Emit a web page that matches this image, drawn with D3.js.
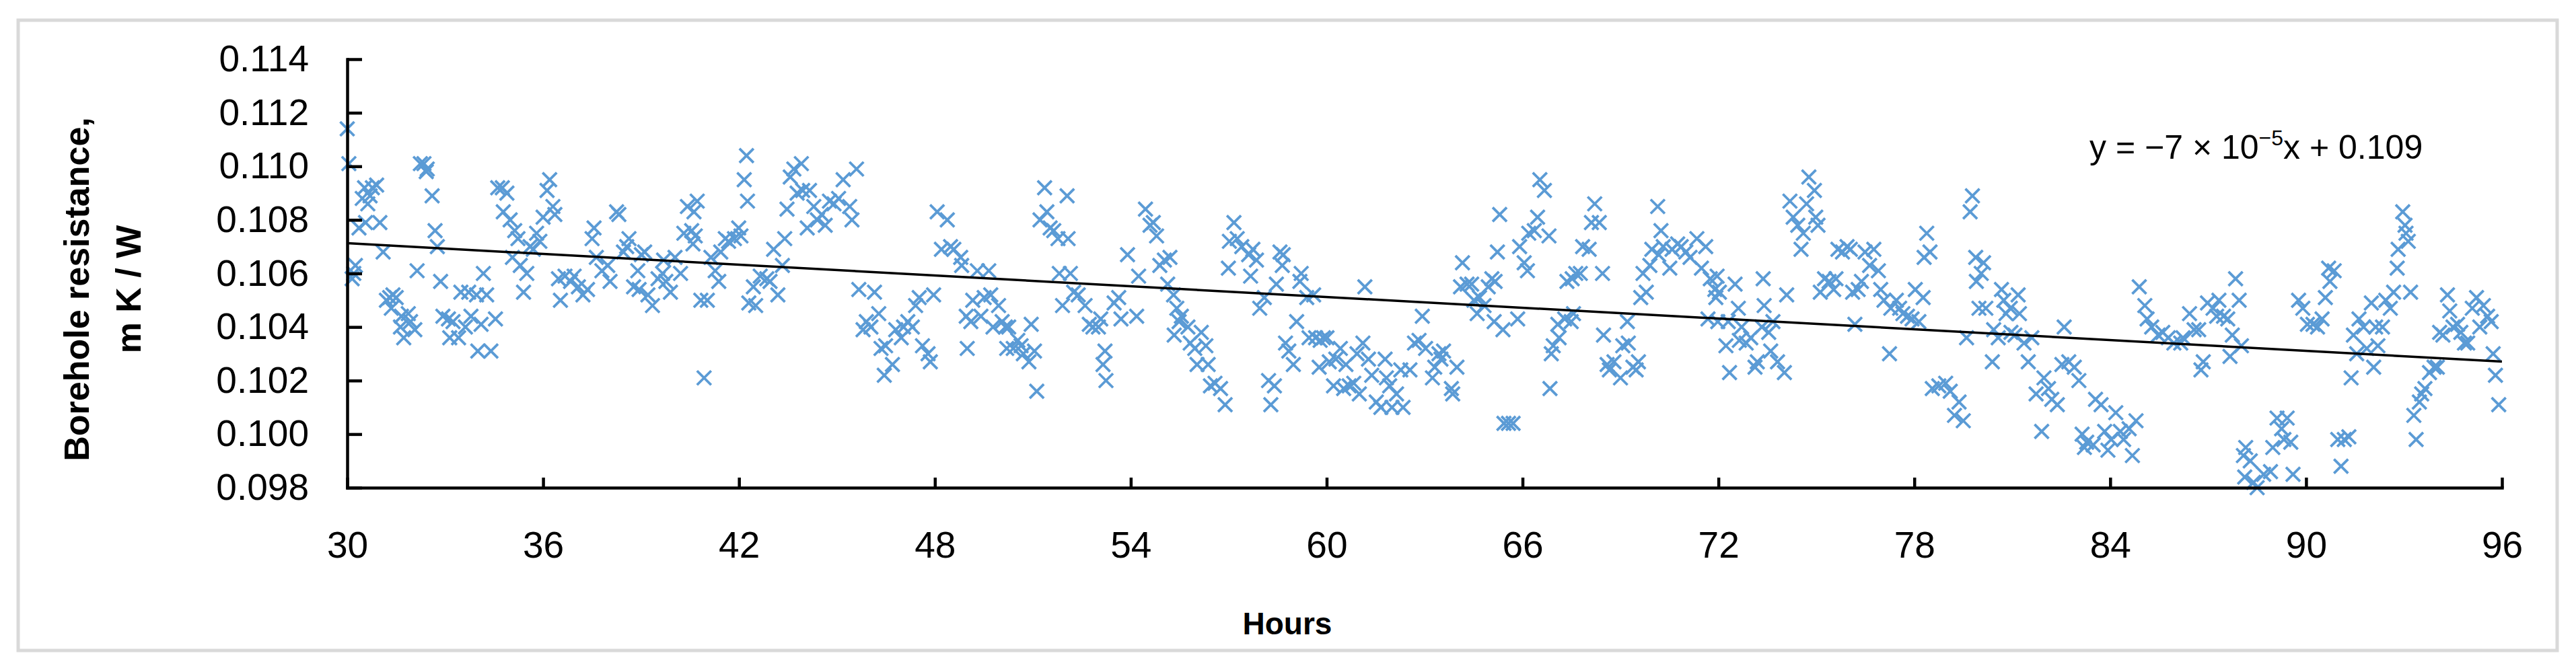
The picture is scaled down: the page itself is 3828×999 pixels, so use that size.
<!DOCTYPE html>
<html>
<head>
<meta charset="utf-8">
<script src="https://cdn.jsdelivr.net/npm/d3@7"></script>
<style>
html,body{margin:0;padding:0;background:#fff;}
svg{display:block;}
</style>
</head>
<body>
<script>
// ---------------- DATA ----------------
// [hour, borehole resistance (m K / W)]
const readings = [
[30.00,.1114],[30.05,.1101],[30.15,.1058],[30.20,.1060],[30.25,.1063],[30.36,.1077],[30.46,.1088],[30.53,.1092],[30.56,.1079],[30.63,.1086],
[30.70,.1089],[30.77,.1092],[30.90,.1093],[31.00,.1079],[31.10,.1068],[31.20,.1050],[31.30,.1051],[31.35,.1047],[31.40,.1052],[31.50,.1051],
[31.63,.1040],[31.66,.1044],[31.73,.1036],[31.87,.1045],[31.94,.1042],[32.07,.1039],[32.14,.1061],[32.24,.1101],[32.35,.1101],[32.42,.1098],
[32.45,.1099],[32.60,.1089],[32.69,.1076],[32.76,.1070],[32.86,.1057],[32.93,.1044],[33.10,.1043],[33.14,.1036],[33.24,.1042],[33.41,.1036],
[33.48,.1053],[33.62,.1040],[33.72,.1053],[33.79,.1044],[33.96,.1052],[34.00,.1031],[34.10,.1041],[34.17,.1060],[34.27,.1052],[34.40,.1031],
[34.54,.1043],[34.61,.1092],[34.75,.1092],[34.78,.1083],[34.89,.1090],[34.99,.1080],[35.06,.1066],[35.13,.1076],[35.23,.1073],[35.30,.1063],
[35.40,.1053],[35.50,.1060],[35.60,.1070],[35.70,.1069],[35.80,.1075],[35.90,.1072],[36.00,.1081],[36.12,.1091],[36.20,.1095],[36.30,.1085],
[36.36,.1082],[36.47,.1058],[36.53,.1050],[36.67,.1059],[36.84,.1057],[36.95,.1059],[37.08,.1055],[37.22,.1052],[37.36,.1054],[37.50,.1073],
[37.56,.1077],[37.63,.1066],[37.80,.1061],
[37.98,.1063],[38.05,.1057],[38.25,.1083],[38.32,.1082],[38.46,.1068],[38.56,.1070],[38.63,.1073],[38.77,.1055],[38.90,.1061],[38.94,.1054],
[39.01,.1067],[39.11,.1068],[39.21,.1052],[39.35,.1048],[39.52,.1058],[39.66,.1060],[39.69,.1065],[39.76,.1057],[39.90,.1053],[40.04,.1066],
[40.21,.1060],[40.31,.1075],[40.42,.1085],[40.55,.1076],[40.59,.1071],[40.62,.1083],[40.66,.1074],[40.72,.1087],[40.83,.1050],[40.93,.1021],
[41.03,.1050],[41.14,.1066],[41.27,.1061],[41.38,.1057],[41.44,.1068],[41.58,.1073],[41.68,.1072],[41.86,.1073],[41.99,.1077],[42.06,.1074],
[42.16,.1095],[42.23,.1104],[42.26,.1087],[42.30,.1049],[42.44,.1055],[42.51,.1048],[42.65,.1059],[42.85,.1058],[42.95,.1057],[43.06,.1069],
[43.19,.1052],[43.33,.1063],[43.40,.1073],[43.47,.1084],[43.57,.1096],[43.68,.1099],[43.78,.1090],[43.91,.1101],[43.95,.1091],[44.09,.1077],
[44.16,.1091],[44.29,.1085],[44.40,.1080],[44.53,.1082],[44.64,.1078],[44.77,.1087],[44.91,.1086],[45.05,.1088],[45.19,.1095],[45.39,.1085],
[45.46,.1080],[45.60,.1099],[45.67,.1054],[45.80,.1039],[45.90,.1042],[46.04,.1040],
[46.15,.1053],[46.28,.1045],[46.35,.1032],[46.45,.1022],[46.49,.1033],[46.70,.1026],[46.80,.1039],[46.97,.1036],[47.04,.1040],[47.17,.1042],
[47.31,.1040],[47.41,.1048],[47.52,.1051],[47.62,.1033],[47.79,.1030],[47.86,.1027],[47.96,.1052],[48.07,.1083],[48.20,.1069],[48.38,.1080],
[48.48,.1070],[48.58,.1069],[48.79,.1066],[48.82,.1063],[48.96,.1044],[48.99,.1032],[49.10,.1042],[49.16,.1050],[49.30,.1061],[49.41,.1044],
[49.51,.1051],[49.65,.1061],[49.71,.1052],[49.78,.1040],[49.95,.1048],[50.06,.1042],[50.16,.1040],[50.20,.1032],[50.26,.1040],[50.40,.1032],
[50.54,.1035],[50.64,.1033],[50.71,.1030],[50.88,.1027],[50.95,.1041],[51.05,.1031],[51.12,.1016],[51.22,.1080],[51.36,.1092],[51.43,.1083],
[51.53,.1077],[51.64,.1076],[51.77,.1073],[51.81,.1060],[51.91,.1048],[52.05,.1089],[52.08,.1073],[52.15,.1060],[52.25,.1053],[52.39,.1052],
[52.60,.1048],[52.73,.1041],[52.84,.1040],[53.01,.1040],[53.08,.1043],[53.15,.1026],[53.21,.1031],[53.24,.1020],[53.49,.1049],[53.63,.1051],
[53.70,.1043],[53.90,.1067],[54.18,.1044],[54.24,.1059],
[54.45,.1084],[54.59,.1078],[54.69,.1079],[54.79,.1074],[54.89,.1063],[55.03,.1065],[55.13,.1056],[55.20,.1066],[55.31,.1052],[55.33,.1037],
[55.41,.1047],[55.48,.1042],[55.55,.1044],[55.75,.1040],[55.82,.1034],[55.96,.1032],[56.03,.1026],[56.16,.1038],[56.30,.1033],[56.37,.1026],
[56.44,.1018],[56.58,.1019],[56.75,.1017],[56.89,.1011],[56.99,.1062],[57.02,.1072],[57.16,.1079],[57.26,.1073],[57.40,.1070],[57.61,.1067],
[57.67,.1059],[57.74,.1069],[57.85,.1065],[57.95,.1047],[58.09,.1051],[58.22,.1020],[58.29,.1011],[58.40,.1018],[58.46,.1056],[58.57,.1068],
[58.64,.1063],[58.67,.1067],[58.74,.1034],[58.84,.1031],[58.98,.1026],[59.08,.1042],[59.18,.1057],[59.22,.1060],[59.39,.1051],[59.46,.1036],
[59.60,.1052],[59.66,.1036],[59.77,.1025],[59.80,.1035],[59.90,.1036],[60.01,.1036],[60.08,.1027],[60.21,.1018],[60.28,.1028],[60.42,.1032],
[60.52,.1017],[60.59,.1026],[60.69,.1018],[60.83,.1019],[60.93,.1030],[61.00,.1015],[61.11,.1034],[61.17,.1055],[61.28,.1028],[61.38,.1022],
[61.52,.1012],[61.66,.1010],[61.79,.1028],[61.83,.1021],[61.93,.1018],[62.00,.1010],[62.14,.1015],[62.27,.1024],[62.34,.1010],[62.55,.1024],
[62.69,.1034],[62.83,.1035],[62.93,.1044],[63.03,.1032],[63.24,.1021],[63.31,.1025],[63.44,.1030],[63.50,.1028],[63.58,.1031],[63.82,.1017],
[63.86,.1015],[63.99,.1025],[64.10,.1055],[64.16,.1064],[64.30,.1056],[64.44,.1056],[64.51,.1050],[64.61,.1045],[64.68,.1051],[64.82,.1048],
[64.95,.1055],[65.06,.1058],[65.13,.1042],[65.16,.1057],[65.23,.1068],[65.30,.1082],[65.40,.1039],[65.43,.1004],[65.57,.1004],[65.71,.1004],
[65.85,.1043],[65.91,.1070],[66.05,.1064],[66.15,.1061],[66.19,.1075],[66.36,.1076],[66.46,.1081],[66.53,.1095],[66.67,.1091],[66.81,.1074],
[66.84,.1017],[66.88,.1030],[66.94,.1033],[67.08,.1041],[67.12,.1036],[67.29,.1043],[67.36,.1057],[67.49,.1042],[67.52,.1058],[67.56,.1045],
[67.63,.1060],[67.77,.1060],[67.84,.1070],[68.04,.1069],[68.11,.1079],[68.21,.1086],[68.35,.1079],[68.45,.1060],[68.48,.1037],[68.59,.1026],
[68.66,.1024],[68.80,.1027],[69.00,.1021],[69.07,.1033],[69.21,.1042],[69.24,.1034],[69.38,.1025],[69.48,.1024],[69.55,.1027],[69.62,.1051],
[69.69,.1060],[69.79,.1053],[69.90,.1063],[69.96,.1069],[70.14,.1085],[70.17,.1067],[70.24,.1076],[70.31,.1070],[70.51,.1062],[70.58,.1069],
[70.75,.1071],
[70.86,.1070],[71.00,.1068],[71.13,.1066],[71.34,.1073],[71.48,.1062],[71.61,.1070],[71.68,.1043],[71.75,.1058],[71.89,.1054],[71.92,.1051],
[71.96,.1059],[71.98,.1042],[72.03,.1053],[72.23,.1033],[72.30,.1042],[72.34,.1023],[72.51,.1056],[72.61,.1047],[72.64,.1035],[72.71,.1040],
[72.85,.1034],[72.99,.1036],[73.12,.1025],[73.19,.1027],[73.33,.1040],[73.37,.1058],[73.40,.1048],[73.54,.1038],[73.60,.1031],[73.67,.1042],
[73.81,.1027],[74.02,.1023],[74.09,.1052],[74.19,.1087],[74.29,.1081],[74.43,.1078],[74.53,.1069],[74.60,.1075],[74.70,.1086],[74.77,.1096],
[74.94,.1091],[74.98,.1081],[75.05,.1078],[75.12,.1053],[75.25,.1058],[75.39,.1057],[75.53,.1054],[75.60,.1058],[75.66,.1069],[75.80,.1068],
[75.94,.1070],[76.04,.1069],[76.11,.1053],[76.18,.1041],[76.28,.1054],[76.38,.1057],[76.49,.1068],[76.63,.1063],[76.76,.1069],[76.90,.1061],
[76.97,.1054],[77.07,.1050],[77.24,.1030],[77.28,.1047],[77.45,.1050],[77.55,.1047],[77.65,.1045],[77.79,.1044],[77.93,.1043],[78.03,.1054],
[78.14,.1042],[78.27,.1051],[78.30,.1066],[78.38,.1075],[78.48,.1068],[78.55,.1017],[78.75,.1018],[78.96,.1019],[79.10,.1016],[79.23,.1007],
[79.37,.1012],
[79.50,.1005],[79.60,.1036],[79.71,.1083],[79.78,.1089],[79.88,.1066],[79.90,.1057],[79.98,.1047],[80.05,.1060],[80.12,.1064],[80.19,.1047],
[80.39,.1027],[80.43,.1039],[80.57,.1036],[80.67,.1054],[80.74,.1050],[80.81,.1045],[80.94,.1047],[80.96,.1038],[81.08,.1037],[81.18,.1052],
[81.22,.1045],[81.36,.1034],[81.49,.1027],[81.60,.1036],[81.73,.1015],[81.90,.1001],[81.97,.1021],[82.11,.1017],[82.21,.1013],[82.38,.1011],
[82.52,.1026],[82.59,.1040],[82.73,.1027],[82.90,.1025],[83.04,.1020],[83.14,.1000],[83.21,.0995],[83.28,.0997],[83.48,.0996],[83.55,.1013],
[83.72,.1011],[83.83,.1001],[83.93,.0994],[84.03,.0998],[84.17,.1008],[84.31,.1001],[84.41,.0998],[84.58,.1002],[84.68,.0992],[84.79,.1005],
[84.89,.1055],[85.06,.1048],[85.13,.1043],[85.27,.1040],[85.47,.1037],[85.61,.1038],[85.78,.1036],[85.95,.1034],[86.16,.1034],[86.23,.1036],
[86.43,.1045],[86.57,.1039],[86.71,.1039],[86.78,.1024],[86.85,.1027],[86.98,.1049],[87.15,.1047],[87.26,.1044],
[87.33,.1050],[87.47,.1044],[87.60,.1043],[87.67,.1029],[87.74,.1037],[87.84,.1058],[87.95,.1050],[88.02,.1033],[88.08,.0992],[88.12,.0984],
[88.15,.0995],[88.29,.0990],[88.39,.0982],[88.50,.0980],[88.70,.0985],[88.91,.0986],[88.98,.0995],[89.11,.1006],[89.25,.1002],[89.32,.0998],
[89.42,.1006],[89.53,.0997],[89.60,.0985],[89.77,.1050],[89.90,.1047],[90.04,.1041],[90.21,.1041],[90.35,.1040],[90.49,.1043],[90.59,.1051],
[90.69,.1062],[90.73,.1057],[90.86,.1061],[90.97,.0998],[91.07,.0988],[91.17,.0998],[91.31,.0999],[91.38,.1021],[91.45,.1037],[91.55,.1030],
[91.62,.1043],[91.76,.1040],[91.86,.1032],[92.00,.1049],[92.07,.1025],[92.13,.1040],[92.20,.1033],[92.34,.1040],[92.44,.1050],[92.58,.1047],
[92.68,.1053],[92.79,.1062],[92.82,.1069],[92.96,.1083],[93.03,.1078],[93.06,.1075],[93.13,.1072],[93.20,.1053],[93.30,.1007],[93.37,.0998],
[93.47,.1012],[93.54,.1015],[93.64,.1017],[93.78,.1023],[93.92,.1025],[94.02,.1025],[94.09,.1038],[94.19,.1037],[94.33,.1052],[94.40,.1046],
[94.50,.1040],[94.64,.1041],[94.74,.1038],[94.85,.1034],[94.95,.1034],[95.09,.1047],[95.22,.1051],[95.32,.1040],[95.43,.1048],[95.56,.1044],
[95.67,.1042],[95.73,.1030],[95.80,.1022],[95.90,.1011]
];
const xTickValues = [30, 36, 42, 48, 54, 60, 66, 72, 78, 84, 90, 96];
const yTickValues = [0.098, 0.100, 0.102, 0.104, 0.106, 0.108, 0.110, 0.112, 0.114];
const trendCoef = [-0.000067, 0.10914];          // slope, intercept of linear trend
const equationParts = ["y = \u22127 \u00d7 10", "\u22125", "x + 0.109"];
const xTitle = "Hours";
const yTitleLines = ["Borehole resistance,", "m K / W"];

// ---------------- DRAW ----------------
const W = 3828, H = 999;
const FONT = "'Liberation Sans', Arial, sans-serif";
const svg = d3.select("body").append("svg").attr("width", W).attr("height", H);
svg.append("rect").attr("width", W).attr("height", H).attr("fill", "#fff");
svg.append("rect").attr("x", 27).attr("y", 30).attr("width", 3773).attr("height", 937)
  .attr("fill", "none").attr("stroke", "#d9d9d9").attr("stroke-width", 5);

const x = d3.scaleLinear().domain([30, 96]).range([516, 3718]);
const y = d3.scaleLinear().domain([0.098, 0.114]).range([725, 88]);

// markers
svg.append("g").selectAll("path").data(readings).join("path")
  .attr("transform", d => `translate(${x(d[0])},${y(d[1])})`)
  .attr("d", "M-10.5,-10.5L10.5,10.5M-10.5,10.5L10.5,-10.5")
  .attr("fill", "none").attr("stroke", "#5B9BD5").attr("stroke-width", 3.8);

// trendline
const trendPts = x.domain().map(h => [h, trendCoef[0] * h + trendCoef[1]]);
svg.append("path").datum(trendPts)
  .attr("d", d3.line().x(d => x(d[0])).y(d => y(d[1])))
  .attr("fill", "none").attr("stroke", "#000").attr("stroke-width", 3.5);

// axes
const xAxis = d3.axisBottom(x).tickValues(xTickValues).tickSizeInner(-15).tickSizeOuter(0)
  .tickPadding(65).tickFormat(d3.format("d"));
const gx = svg.append("g").attr("transform", `translate(0,${y(0.098)})`).call(xAxis);
const yAxis = d3.axisLeft(y).tickValues(yTickValues).tickSizeInner(-22).tickSizeOuter(0)
  .tickPadding(57).tickFormat(d3.format(".3f"));
const gy = svg.append("g").attr("transform", `translate(${x(30)},0)`).call(yAxis);
[gx, gy].forEach(g => {
  g.select(".domain").attr("stroke", "#000").attr("stroke-width", 4.5).attr("stroke-linecap", "square");
  g.selectAll(".tick line").attr("stroke", "#000").attr("stroke-width", 4.5);
  g.selectAll(".tick text").attr("fill", "#000").style("font-family", FONT).style("font-size", "55px");
});

// axis titles
svg.append("text").attr("x", 1913).attr("y", 943).attr("text-anchor", "middle")
  .style("font-family", FONT).style("font-size", "46px").style("font-weight", "bold").text(xTitle);
const yT = [132, 209];
yTitleLines.forEach((t, i) => {
  svg.append("text").attr("transform", `translate(${yT[i]},430) rotate(-90)`).attr("text-anchor", "middle")
    .style("font-family", FONT).style("font-size", "52px").style("font-weight", "bold").text(t);
});

// equation
const eq = svg.append("text").attr("x", 3105).attr("y", 236)
  .style("font-family", FONT).style("font-size", "50px").attr("fill", "#000");
eq.append("tspan").text(equationParts[0]);
eq.append("tspan").attr("dy", -20).style("font-size", "32px").text(equationParts[1]);
eq.append("tspan").attr("dy", 20).text(equationParts[2]);
</script>
</body>
</html>
